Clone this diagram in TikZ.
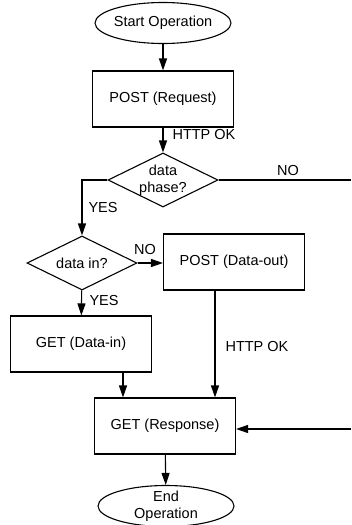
\documentclass[tikz,border=0pt]{standalone}
\usepackage{fontspec}
\setmainfont{Liberation Sans}
\usetikzlibrary{shapes.geometric,arrows.meta}

\begin{document}
\begin{tikzpicture}[x=1pt,y=-1pt,
	font=\fontsize{14.5}{17}\selectfont,
	line width=1.1pt,
	box/.style={draw,rectangle,minimum width=141pt,minimum height=56pt},
	term/.style={draw,ellipse,minimum width=136pt,minimum height=41pt,inner sep=-3pt,align=center},
	test/.style={draw,diamond,aspect=2,minimum width=110pt,minimum height=54pt,inner sep=-8pt,align=center},
	arr/.style={-{Triangle[length=12pt,width=8pt]}},
	lbl/.style={inner sep=0pt}]
	\useasboundingbox (0,0) rectangle (351,525);

	\node[term] (start) at (163,23) {Start Operation};
	\node[box] (req) at (163,99) {POST (Request)};
	\node[test] (phase) at (163,180) {data\\phase?};
	\node[test] (datain) at (82,263) {data in?};
	\node[box] (dataout) at (234,262) {POST (Data-out)};
	\node[box] (getin) at (81,344) {GET (Data-in)};
	\node[box] (resp) at (165,426) {GET (Response)};
	\node[term] (stop) at (166,506) {End\\Operation};

	\coordinate (noend) at (351,180);
	\coordinate (back) at (351,429);

	\node[lbl,anchor=west] (okreq) at (172,135) {HTTP OK};
	\node[lbl] (nophase) at (288,171) {NO};
	\node[lbl,anchor=west] (yesphase) at (88,208) {YES};
	\node[lbl] (noin) at (145,250) {NO};
	\node[lbl,anchor=west] (yesin) at (89,301) {YES};
	\node[lbl,anchor=west] (okout) at (225,347) {HTTP OK};

	\draw[arr] (start) -- (req);
	\draw[arr] (req) -- (phase);
	\draw (phase.east) -- (noend);
	\draw[arr] (phase.west) -| (datain.north);
	\draw[arr] (datain.east) -- (datain.east -| dataout.west);
	\draw[arr] (datain) -- (getin);
	\draw[arr] ([xshift=42pt]getin.south) -- ([xshift=42pt]getin.south |- resp.north);
	\draw[arr] ([xshift=-19pt]dataout.south) -- ([xshift=-19pt]dataout.south |- resp.north);
	\draw[arr] (back) -- (back -| resp.east);
	\draw[arr] (resp) -- (stop);
\end{tikzpicture}
\end{document}
